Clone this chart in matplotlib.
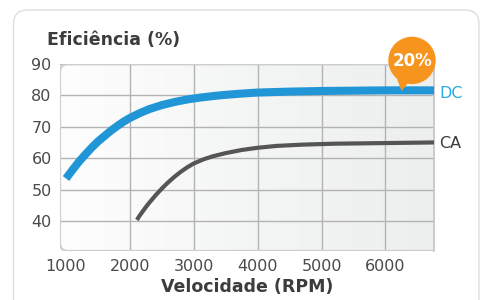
import numpy as np
import matplotlib
matplotlib.use('Agg')
import matplotlib.pyplot as plt
from matplotlib.patches import FancyBboxPatch, Circle, Polygon
from matplotlib.colors import LinearSegmentedColormap

# 曲线数据
rpm_dc = [1000, 1100, 1200, 1300, 1400, 1500, 1600, 1700, 1800, 1900, 2000, 2150, 2300,
          2500, 2700, 2900, 3100, 3400, 3700, 4000, 4500, 5000, 5500, 6000, 6760]
eff_dc = [53.5, 56.2, 58.8, 61.1, 63.3, 65.3, 67.0, 68.7, 70.2, 71.6, 72.8, 74.3, 75.6,
          76.9, 77.9, 78.7, 79.3, 80.0, 80.5, 80.9, 81.2, 81.4, 81.5, 81.6, 81.6]
rpm_ca = [2110, 2150, 2200, 2250, 2300, 2400, 2500, 2600, 2700, 2800, 2900, 3000, 3150,
          3300, 3500, 3750, 4000, 4300, 4700, 5200, 6000, 6760]
eff_ca = [40.3, 41.6, 43.0, 44.4, 45.7, 48.1, 50.3, 52.3, 54.1, 55.7, 57.1, 58.3, 59.6,
          60.6, 61.6, 62.6, 63.3, 63.9, 64.3, 64.6, 64.8, 65.0]

x_ticks = [1000, 2000, 3000, 4000, 5000, 6000]
y_ticks = [40, 50, 60, 70, 80, 90]
series_labels = ['DC', 'CA']
badge_text = '20%'

BLUE = '#2196d6'
BLUE_TXT = '#29a8e2'
GRAY = '#555555'
ORANGE = '#f7941d'
TEXT = '#3c3c3c'


def draw_chart():
    plt.rcParams['font.family'] = ['DejaVu Sans']
    fig = plt.figure(figsize=(4.8, 3.0), dpi=100)

    # 背景卡片（像素坐标）
    bg = fig.add_axes([0, 0, 1, 1], zorder=0)
    bg.set_xlim(0, 480)
    bg.set_ylim(300, 0)
    bg.axis('off')
    card = FancyBboxPatch((13.5, 10), 465.5, 320, boxstyle='round,pad=0,rounding_size=14',
                          facecolor='white', edgecolor='#dedede', lw=1.0)
    bg.add_patch(card)

    # 主图
    ax = fig.add_axes([60 / 480, 49 / 300, 374 / 480, 187 / 300], zorder=1)
    ax.patch.set_visible(False)
    xmin, xmax, ymin, ymax = 906, 6760, 30.4, 90

    frame = FancyBboxPatch((0, 0), 1.2, 1, boxstyle='round,pad=0,rounding_size=0.0214',
                           mutation_aspect=2.0, transform=ax.transAxes,
                           facecolor='none', edgecolor='#cdcdcd', lw=1.6, zorder=0.6)
    ax.add_patch(frame)

    cmap = LinearSegmentedColormap.from_list('bg', ['#fefefe', '#f4f5f5', '#edeeee'])
    grad = np.linspace(0, 1, 256).reshape(1, -1)
    im = ax.imshow(grad, extent=[xmin, xmax, ymin, ymax], aspect='auto', cmap=cmap,
                   interpolation='bicubic', zorder=0)
    im.set_clip_path(frame)

    ax.set_xlim(xmin, xmax)
    ax.set_ylim(ymin, ymax)
    ax.set_xticks(x_ticks)
    ax.set_yticks(y_ticks)
    ax.grid(color='#b3b3b3', lw=1.0)
    ax.set_axisbelow(True)
    ax.xaxis.get_major_ticks()[0].gridline.set_visible(False)
    for s in ['left', 'top', 'bottom']:
        ax.spines[s].set_visible(False)
    ax.spines['right'].set_color('#c4c4c4')
    ax.spines['right'].set_linewidth(1.2)
    ax.tick_params(length=0, pad=6, labelsize=11.5, labelcolor='#4a4a4a')

    ax.plot(rpm_dc, eff_dc, color=BLUE, lw=5.8, solid_capstyle='butt',
            solid_joinstyle='round', zorder=3)
    ax.plot(rpm_ca, eff_ca, color=GRAY, lw=3.0, solid_capstyle='butt',
            solid_joinstyle='round', zorder=3)

    ax.annotate(series_labels[0], xy=(1, eff_dc[-1]), xycoords=('axes fraction', 'data'),
                xytext=(4, -2), textcoords='offset points', va='center', ha='left',
                fontsize=11.5, color=BLUE_TXT, annotation_clip=False)
    ax.annotate(series_labels[1], xy=(1, eff_ca[-1]), xycoords=('axes fraction', 'data'),
                xytext=(4, -1), textcoords='offset points', va='center', ha='left',
                fontsize=11.5, color=TEXT, annotation_clip=False)

    ax.set_xlabel('Velocidade (RPM)', fontsize=12.5, fontweight='bold', color=TEXT, labelpad=3)
    fig.text(47 / 480, 1 - 40 / 300, 'Eficiência (%)', fontsize=12.5, fontweight='bold',
             color=TEXT, ha='left', va='center')

    # 橙色标记
    fg = fig.add_axes([0, 0, 1, 1], zorder=5)
    fg.set_xlim(0, 480)
    fg.set_ylim(300, 0)
    fg.axis('off')
    fg.add_patch(Polygon([[397, 79], [409, 82], [401.7, 91]], closed=True, color=ORANGE, lw=0))
    fg.add_patch(Circle((412, 60.4), 23.7, color=ORANGE, lw=0))
    fg.text(412, 61, badge_text, color='white', fontsize=12, fontweight='bold',
            ha='center', va='center')

    fig.savefig('out.png', dpi=100)
    plt.close(fig)


if __name__ == "__main__":
    draw_chart()
